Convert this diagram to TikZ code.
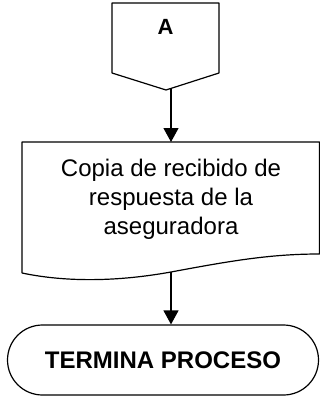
\documentclass[tikz,border=0pt]{standalone}
\usepackage{fontspec}
\setmainfont{Liberation Sans}
\usetikzlibrary{arrows.meta}
\begin{document}
\begin{tikzpicture}[
  x=1pt, y=-1pt,
  flowline/.style = {line width=1.2pt, line join=round},
  flowarrow/.style = {line width=1.2pt, -{Triangle[width=15pt,length=14pt]}},
  flowtxt/.style = {font=\fontsize{24}{29}\selectfont, align=center, inner sep=0pt},
  flowterm/.style = {flowline, draw, rounded corners=35pt,
    minimum width=311pt, minimum height=70pt,
    font=\bfseries\fontsize{24}{29}\selectfont}
]
  \useasboundingbox (0,0) rectangle (320,404);
  % conector de pagina
  \draw[flowline] (112,3) -- (219,3) -- (219,73) -- (166,90) -- (112,73) -- cycle;
  \node[flowtxt, font=\bfseries\fontsize{22}{26}\selectfont] (conA) at (165.5,27.3) {A};
  \coordinate (conOut) at (171,89);
  % documento
  \draw[flowline] (22,273) -- (22,142) -- (319.4,142) -- (319.4,254)
    .. controls (270,254) and (230,261) .. (171,272)
    .. controls (110,283) and (60,281) .. (22,273);
  \node[flowtxt] (docTxt) at (171,199.6)
    {Copia de recibido de\\respuesta de la\\aseguradora};
  \coordinate (docIn) at (171,142);
  \coordinate (docOut) at (171,272);
  % fin
  \node[flowterm] (fin) at (163,360) {TERMINA PROCESO};
  % flechas
  \draw[flowarrow] (conOut) -- (docIn);
  \draw[flowarrow] (docOut) -- (docOut |- fin.north);
\end{tikzpicture}
\end{document}
